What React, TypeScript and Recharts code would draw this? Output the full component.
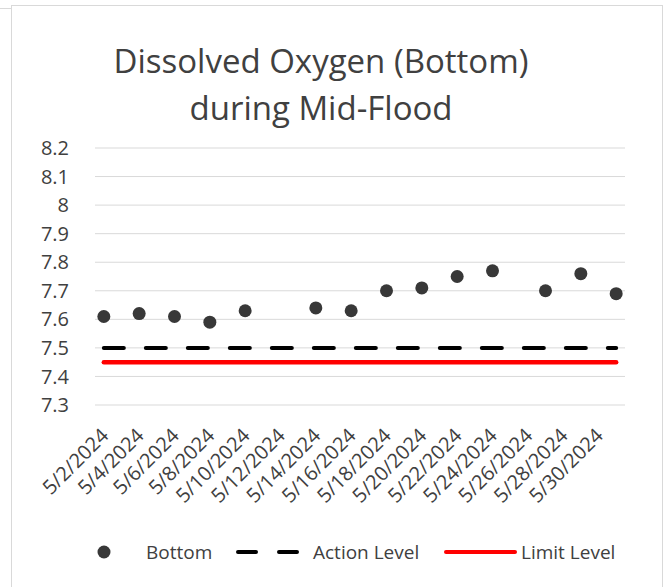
import { ComposedChart, Line, XAxis, YAxis, CartesianGrid } from 'recharts';

// day of month (May 2024) for each sample
const SAMPLE_DAYS = [2, 4, 6, 8, 10, 14, 16, 18, 20, 22, 24, 27, 29, 31];
const BOTTOM_DO = [7.61, 7.62, 7.61, 7.59, 7.63, 7.64, 7.63, 7.7, 7.71, 7.75, 7.77, 7.7, 7.76, 7.69];
const ACTION_LEVEL = 7.5;
const LIMIT_LEVEL = 7.45;

const X_TICK_DAYS = [2, 4, 6, 8, 10, 12, 14, 16, 18, 20, 22, 24, 26, 28, 30];
const Y_TICKS = [7.3, 7.4, 7.5, 7.6, 7.7, 7.8, 7.9, 8, 8.1, 8.2];

const rows = SAMPLE_DAYS.map((day, i) => ({
  day,
  bottom: BOTTOM_DO[i],
  action: ACTION_LEVEL,
  limit: LIMIT_LEVEL,
}));

const FONT = '"Open Sans", sans-serif';
const TEXT = '#404040';

const fmtDate = (d: number) => `5/${d}/2024`;
const fmtY = (v: number) => (Number.isInteger(v) ? String(v) : v.toFixed(1));

function XTick({ x, y, payload }: any) {
  return (
    <g transform={`translate(${x + 1},${y + 19})`}>
      <text
        x={0}
        y={0}
        dy="0.35em"
        textAnchor="end"
        transform="rotate(-45)"
        fill={TEXT}
        fontSize={20}
        fontFamily={FONT}
      >
        {fmtDate(payload.value)}
      </text>
    </g>
  );
}

function ChartLegend() {
  const cy = 552;
  return (
    <svg width={668} height={587} style={{ position: 'absolute', left: 0, top: 0, pointerEvents: 'none' }}>
      <circle cx={104} cy={cy} r={6.5} fill="#383838" />
      <text x={146} y={cy} dominantBaseline="central" fontSize={19} fontFamily={FONT} fill={TEXT}>
        Bottom
      </text>
      <line x1={238} y1={cy} x2={300} y2={cy} stroke="#000" strokeWidth={4} strokeDasharray="18 23" strokeLinecap="round" />
      <text x={313} y={cy} dominantBaseline="central" fontSize={19} fontFamily={FONT} fill={TEXT}>
        Action Level
      </text>
      <line x1={446} y1={cy} x2={515} y2={cy} stroke="#ff0000" strokeWidth={4} strokeLinecap="round" />
      <text x={521} y={cy} dominantBaseline="central" fontSize={19} fontFamily={FONT} fill={TEXT}>
        Limit Level
      </text>
    </svg>
  );
}

export default function App() {
  return (
    <div
      style={{
        position: 'absolute',
        left: 0,
        top: 0,
        width: 668,
        height: 587,
        background: '#fff',
        fontFamily: FONT,
        overflow: 'hidden',
      }}
    >
      <div style={{ position: 'absolute', left: 0, top: 8, width: 11, height: 1, background: '#d9d9d9' }} />
      <div
        style={{
          position: 'absolute',
          left: 11,
          top: 5,
          width: 652,
          height: 600,
          border: '1px solid #d9d9d9',
          boxSizing: 'border-box',
        }}
      />
      <div
        style={{
          position: 'absolute',
          left: 0,
          top: 37,
          width: 642,
          textAlign: 'center',
          fontSize: 33,
          lineHeight: '47px',
          color: TEXT,
        }}
      >
        Dissolved Oxygen (Bottom)
        <br />
        during Mid-Flood
      </div>
      <div style={{ position: 'absolute', left: 0, top: 0 }}>
        <ComposedChart
          width={668}
          height={587}
          data={rows}
          margin={{ top: 148, right: 43, bottom: 62, left: 0 }}
        >
          <CartesianGrid vertical={false} stroke="#d9d9d9" strokeWidth={1} />
          <XAxis
            dataKey="day"
            type="number"
            domain={[1.5, 31.5]}
            ticks={X_TICK_DAYS}
            interval={0}
            tick={<XTick />}
            axisLine={false}
            tickLine={false}
            height={120}
          />
          <YAxis
            domain={[7.3, 8.2]}
            ticks={Y_TICKS}
            interval={0}
            width={95}
            axisLine={false}
            tickLine={false}
            tickMargin={20}
            tickFormatter={fmtY}
            tick={{ fill: TEXT, fontSize: 20, fontFamily: FONT }}
          />
          <Line
            dataKey="action"
            stroke="#000"
            strokeWidth={4}
            strokeDasharray="20 22"
            strokeLinecap="round"
            dot={false}
            isAnimationActive={false}
          />
          <Line
            dataKey="limit"
            stroke="#ff0000"
            strokeWidth={4.5}
            strokeLinecap="round"
            dot={false}
            isAnimationActive={false}
          />
          <Line
            dataKey="bottom"
            stroke="none"
            dot={{ r: 6.5, fill: '#383838', stroke: 'none' }}
            activeDot={false}
            isAnimationActive={false}
          />
        </ComposedChart>
      </div>
      <ChartLegend />
    </div>
  );
}
